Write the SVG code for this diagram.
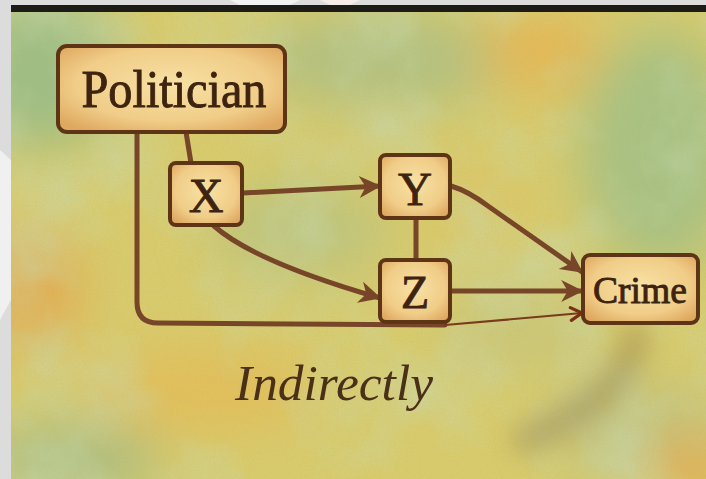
<svg xmlns="http://www.w3.org/2000/svg" width="706" height="479" viewBox="0 0 706 479">
  <defs>
    <filter id="blur" x="-50%" y="-50%" width="200%" height="200%">
      <feGaussianBlur stdDeviation="26"/>
    </filter>
    <filter id="blurS" x="-50%" y="-50%" width="200%" height="200%">
      <feGaussianBlur stdDeviation="13"/>
    </filter>
    <filter id="greenBlot" x="0" y="0" width="100%" height="100%">
      <feTurbulence type="fractalNoise" baseFrequency="0.009" numOctaves="4" seed="7"/>
      <feColorMatrix type="matrix" values="0 0 0 0 0.58  0 0 0 0 0.72  0 0 0 0 0.46  2.6 0 0 0 -1.15"/>
    </filter>
    <filter id="grain" x="0" y="0" width="100%" height="100%">
      <feTurbulence type="fractalNoise" baseFrequency="0.6" numOctaves="2" seed="2"/>
      <feColorMatrix type="matrix" values="0 0 0 0 0.45  0 0 0 0 0.40  0 0 0 0 0.2  0 0 0 0.25 -0.06"/>
    </filter>
    <radialGradient id="boxFill" cx="50%" cy="45%" r="65%">
      <stop offset="0" stop-color="#f8e1a4"/>
      <stop offset="0.65" stop-color="#f0cd88"/>
      <stop offset="1" stop-color="#dfa860"/>
    </radialGradient>
    <marker id="arr" viewBox="0 0 20 20" refX="18" refY="10" markerWidth="26" markerHeight="26" markerUnits="userSpaceOnUse" orient="auto">
      <path d="M2 1.5 L19 10 L2 18.5 L7 10 Z" fill="#774528"/>
    </marker>
    <marker id="arrThin" viewBox="0 0 20 20" refX="18" refY="10" markerWidth="16" markerHeight="16" markerUnits="userSpaceOnUse" orient="auto">
      <path d="M4 2 L18 10 L4 18" fill="none" stroke="#7a2e14" stroke-width="4" stroke-linecap="round" stroke-linejoin="round"/>
    </marker>
    <clipPath id="paper"><rect x="11" y="11" width="695" height="468"/></clipPath>
  </defs>
  <style>
    .box { fill: url(#boxFill); stroke: #5e3416; stroke-width: 4; }
    .lbl { font-family: "Liberation Serif", "DejaVu Serif", serif; fill: #3e2410; stroke: #3e2410; stroke-width: 0.9; text-anchor: middle; }
    .edge { fill: none; stroke: #774528; stroke-width: 5; stroke-linecap: round; }
    .thin { fill: none; stroke: #7a3a1c; stroke-width: 2.2; stroke-linecap: round; }
  </style>

  <!-- page margin with watermark -->
  <rect x="0" y="0" width="706" height="479" fill="#dcdcdc"/>
  <polygon points="0,150 11,160 11,300 0,320" fill="#f0f0f0"/>
  <polygon points="230,0 300,0 290,5 240,5" fill="#f2f2f2"/>
  <polygon points="320,0 360,0 350,5 330,5" fill="#f6ecea"/>

  <!-- paper -->
  <g clip-path="url(#paper)">
    <rect x="11" y="11" width="695" height="468" fill="#d9cc6c"/>
    <g filter="url(#blur)">
      <ellipse cx="40" cy="70" rx="80" ry="80" fill="#9fbf84"/>
      <ellipse cx="380" cy="60" rx="130" ry="50" fill="#b4c280"/>
      <ellipse cx="660" cy="150" rx="80" ry="120" fill="#a8c282"/>
      <ellipse cx="30" cy="290" rx="50" ry="60" fill="#e5ac4e"/>
      <ellipse cx="540" cy="50" rx="60" ry="40" fill="#e6b852"/>
      <ellipse cx="200" cy="390" rx="120" ry="40" fill="#e4bf58"/>
      <ellipse cx="70" cy="460" rx="90" ry="40" fill="#adbf80"/>
      <ellipse cx="640" cy="430" rx="90" ry="50" fill="#c4c47c"/>
      <ellipse cx="690" cy="470" rx="50" ry="30" fill="#e4ae50"/>
      <ellipse cx="300" cy="230" rx="90" ry="50" fill="#bfc67c"/>
      <ellipse cx="520" cy="330" rx="80" ry="40" fill="#cbc878"/>
      <ellipse cx="470" cy="200" rx="60" ry="40" fill="#dcc868"/>
    </g>
    <rect x="11" y="11" width="695" height="468" filter="url(#greenBlot)" opacity="0.5"/>
    <rect x="11" y="11" width="695" height="468" filter="url(#grain)"/>
    <!-- smudge below Crime -->
    <path d="M636 335 C 630 370, 605 405, 525 440" fill="none" stroke="#85703f" stroke-width="26" stroke-linecap="round" opacity="0.4" filter="url(#blurS)"/>
  </g>
  <rect x="11" y="5" width="695" height="7" fill="#1d1b16"/>

  <!-- connectors -->
  <g id="connectors">
    <path class="edge" d="M186 132 L191 163"/>
    <path class="edge" d="M137 132 L137 302 Q137 323 158 323 L445 325"/>
    <path class="thin" d="M445 325 L582 313" marker-end="url(#arrThin)"/>
    <path class="edge" d="M243 193 L380 186" marker-end="url(#arr)"/>
    <path class="edge" d="M214 226 Q255 262 380 298" marker-end="url(#arr)"/>
    <path class="edge" d="M416 218 L416 260"/>
    <path class="edge" d="M451 186 Q468 191 488 206 L582 272" marker-end="url(#arr)"/>
    <path class="edge" d="M451 291 L582 291" marker-end="url(#arr)"/>
  </g>

  <!-- nodes -->
  <g id="politician">
    <rect class="box" x="58" y="46" width="227" height="86" rx="9"/>
    <text class="lbl" x="174" y="107" font-size="52" textLength="185" lengthAdjust="spacingAndGlyphs">Politician</text>
  </g>
  <g id="x">
    <rect class="box" x="170" y="163" width="72" height="62" rx="6"/>
    <text class="lbl" x="206" y="212" font-size="48">X</text>
  </g>
  <g id="y">
    <rect class="box" x="380" y="155" width="70" height="63" rx="6"/>
    <text class="lbl" x="415" y="205" font-size="47">Y</text>
  </g>
  <g id="z">
    <rect class="box" x="380" y="260" width="70" height="62" rx="6"/>
    <text class="lbl" x="415" y="308" font-size="46">Z</text>
  </g>
  <g id="crime">
    <rect class="box" x="583" y="255" width="115" height="68" rx="7"/>
    <text class="lbl" x="640" y="303" font-size="38" textLength="94" lengthAdjust="spacingAndGlyphs">Crime</text>
  </g>

  <text x="334" y="400" font-family="Liberation Serif, DejaVu Serif, serif" font-style="italic" font-size="51" fill="#4a3019" text-anchor="middle" textLength="198" lengthAdjust="spacingAndGlyphs">Indirectly</text>
</svg>
